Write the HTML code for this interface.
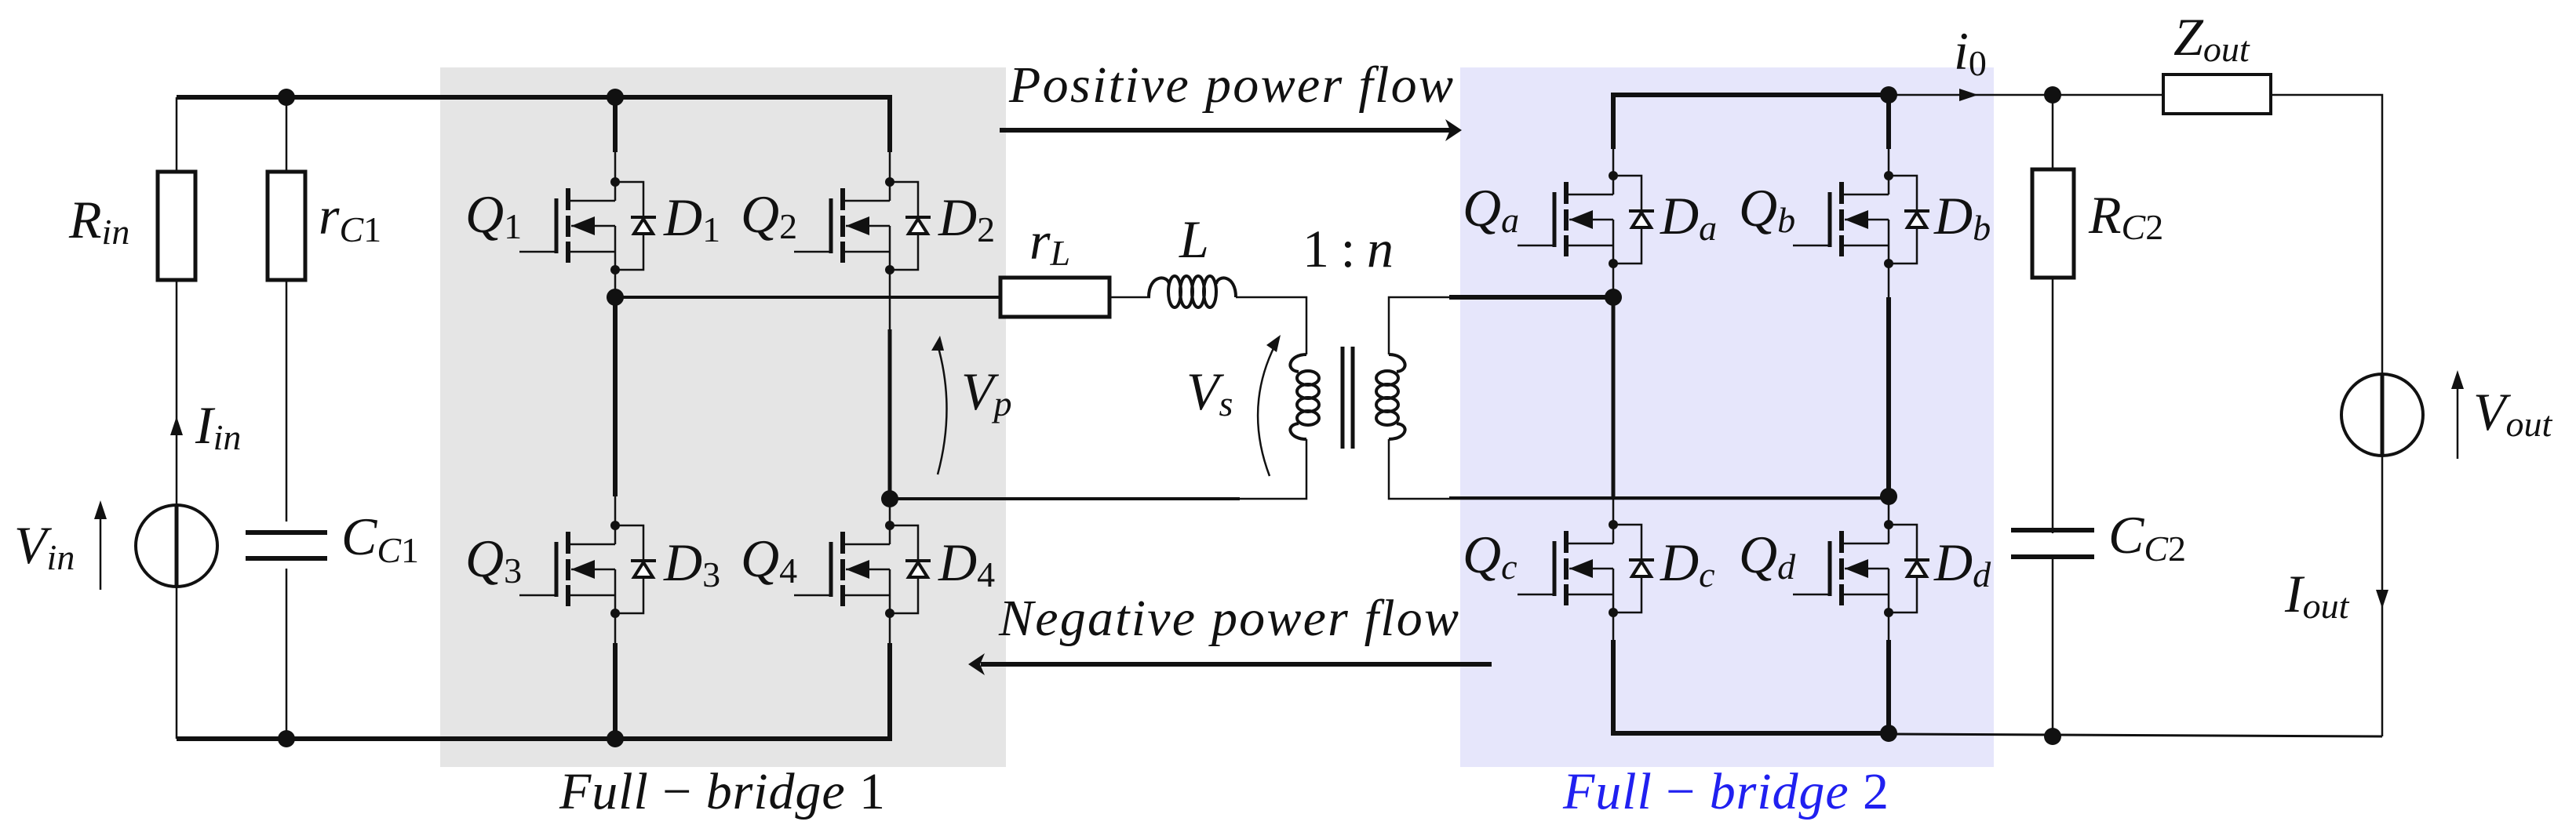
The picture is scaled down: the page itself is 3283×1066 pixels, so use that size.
<!DOCTYPE html>
<html><head><meta charset="utf-8"><style>
html,body{margin:0;padding:0;background:#fff}
svg{display:block}
text{font-family:"Liberation Serif","DejaVu Serif",serif;font-style:italic;fill:#111}
.up{font-style:normal}
</style></head><body>
<svg width="3283" height="1066" viewBox="0 0 3283 1066" xmlns="http://www.w3.org/2000/svg" font-family="Liberation Serif, DejaVu Serif, serif">
<defs>
<g id="fet" stroke="#111" fill="none">
  <line x1="0" y1="0" x2="0" y2="24" stroke-width="2.5"/>
  <line x1="0" y1="24" x2="-60" y2="24" stroke-width="2.5"/>
  <line x1="-60" y1="8" x2="-60" y2="36" stroke-width="6"/>
  <line x1="-60" y1="43" x2="-60" y2="70" stroke-width="6"/>
  <line x1="-60" y1="76" x2="-60" y2="103" stroke-width="6"/>
  <line x1="-75" y1="21" x2="-75" y2="91" stroke-width="5"/>
  <line x1="-122" y1="89" x2="-75" y2="89" stroke-width="2.5"/>
  <line x1="-56" y1="56" x2="0" y2="56" stroke-width="2.5"/>
  <line x1="-60" y1="89" x2="0" y2="89" stroke-width="2.5"/>
  <line x1="0" y1="56" x2="0" y2="112" stroke-width="2.5"/>
  <polygon points="-56,56 -26,44 -26,68" fill="#111" stroke="none"/>
  <polyline points="0,0 36,0 36,112 0,112" stroke-width="2.5"/>
  <line x1="20" y1="45" x2="52" y2="45" stroke-width="4"/>
  <polygon points="36,47 24,66 48,66" fill="#fff" stroke-width="4"/>
  <circle cx="0" cy="0" r="6" fill="#111" stroke="none"/>
  <circle cx="0" cy="112" r="6" fill="#111" stroke="none"/>
</g>
<g id="coilL" fill="none" stroke="#111" stroke-width="4">
  <path d="M0,0 C22,0 28,20 10,22"/>
  <ellipse cx="-2" cy="30" rx="14" ry="9"/>
  <ellipse cx="-2" cy="47" rx="14" ry="9"/>
  <ellipse cx="-2" cy="64" rx="14" ry="9"/>
  <ellipse cx="-2" cy="81" rx="14" ry="9"/>
  <path d="M10,88 C28,90 22,108 0,108"/>
</g>
</defs>

<rect x="561" y="86" width="721" height="892" fill="#e5e5e5"/>
<rect x="1861" y="86" width="680" height="892" fill="#e6e6fb"/>

<g stroke="#111" fill="none" stroke-linecap="butt">
<line x1="225" y1="124" x2="1137" y2="124" stroke-width="6"/>
<line x1="784" y1="124" x2="784" y2="194" stroke-width="6"/>
<line x1="1134" y1="121" x2="1134" y2="194" stroke-width="6"/>
<line x1="784" y1="194" x2="784" y2="232" stroke-width="2.5"/>
<line x1="1134" y1="194" x2="1134" y2="232" stroke-width="2.5"/>
<line x1="225" y1="942" x2="1137" y2="942" stroke-width="6"/>
<line x1="225" y1="124" x2="225" y2="942" stroke-width="2.5"/>
<line x1="365" y1="124" x2="365" y2="942" stroke-width="2.5"/>
<line x1="784" y1="344" x2="784" y2="379" stroke-width="2.5"/>
<line x1="784" y1="379" x2="784" y2="633" stroke-width="6"/>
<line x1="784" y1="633" x2="784" y2="670" stroke-width="2.5"/>
<line x1="784" y1="782" x2="784" y2="820" stroke-width="2.5"/>
<line x1="784" y1="820" x2="784" y2="942" stroke-width="6"/>
<line x1="1134" y1="344" x2="1134" y2="636" stroke-width="2.5"/>
<line x1="1134" y1="420" x2="1134" y2="636" stroke-width="5"/>
<line x1="1134" y1="636" x2="1134" y2="670" stroke-width="2.5"/>
<line x1="1134" y1="782" x2="1134" y2="820" stroke-width="2.5"/>
<line x1="1134" y1="820" x2="1134" y2="945" stroke-width="6"/>
<line x1="784" y1="379" x2="1273" y2="379" stroke-width="4"/>
<rect x="1275" y="354" width="139" height="50" stroke-width="5" fill="#fff"/>
<line x1="1414" y1="379" x2="1466" y2="379" stroke-width="2.5"/>
<path d="M1464,379 C1464,350 1488,350 1490,362" stroke-width="4"/>
<ellipse cx="1497" cy="372" rx="8" ry="20" stroke-width="4"/>
<ellipse cx="1512" cy="372" rx="8" ry="20" stroke-width="4"/>
<ellipse cx="1527" cy="372" rx="8" ry="20" stroke-width="4"/>
<ellipse cx="1542" cy="372" rx="8" ry="20" stroke-width="4"/>
<path d="M1550,362 C1552,350 1575,350 1575,379" stroke-width="4"/>
<polyline points="1575,379 1665,379 1665,452" stroke-width="2.5"/>
<polyline points="1665,560 1665,636 1134,636" stroke-width="2.5"/>
<line x1="1134" y1="636" x2="1580" y2="636" stroke-width="4"/>
<use href="#coilL" transform="translate(1665,452) scale(-1,1)"/>
<use href="#coilL" transform="translate(1770,452)"/>
<line x1="1711" y1="442" x2="1711" y2="572" stroke-width="5"/>
<line x1="1724" y1="442" x2="1724" y2="572" stroke-width="5"/>
<polyline points="1770,452 1770,379 2056,379" stroke-width="2.5"/>
<line x1="1847" y1="379" x2="2056" y2="379" stroke-width="6"/>
<polyline points="1770,560 1770,636 2407,636" stroke-width="2.5"/>
<line x1="1847" y1="635" x2="2407" y2="635" stroke-width="4"/>
<line x1="2053" y1="121" x2="2407" y2="121" stroke-width="6"/>
<line x1="2056" y1="121" x2="2056" y2="190" stroke-width="6"/>
<line x1="2407" y1="121" x2="2407" y2="190" stroke-width="6"/>
<line x1="2056" y1="190" x2="2056" y2="224" stroke-width="2.5"/>
<line x1="2407" y1="190" x2="2407" y2="224" stroke-width="2.5"/>
<line x1="2056" y1="336" x2="2056" y2="379" stroke-width="2.5"/>
<line x1="2056" y1="379" x2="2056" y2="636" stroke-width="5"/>
<line x1="2056" y1="636" x2="2056" y2="669" stroke-width="2.5"/>
<line x1="2407" y1="336" x2="2407" y2="379" stroke-width="2.5"/>
<line x1="2407" y1="379" x2="2407" y2="633" stroke-width="6"/>
<line x1="2407" y1="633" x2="2407" y2="669" stroke-width="2.5"/>
<line x1="2056" y1="781" x2="2056" y2="816" stroke-width="2.5"/>
<line x1="2056" y1="816" x2="2056" y2="938" stroke-width="6"/>
<line x1="2407" y1="781" x2="2407" y2="816" stroke-width="2.5"/>
<line x1="2407" y1="816" x2="2407" y2="938" stroke-width="6"/>
<line x1="2053" y1="935" x2="2407" y2="935" stroke-width="6"/>
<line x1="2407" y1="936" x2="3036" y2="939" stroke-width="3"/>
<line x1="2407" y1="121" x2="2756" y2="121" stroke-width="2.5"/>
<polyline points="2895,121 3036,121 3036,939" stroke-width="2.5"/>
<line x1="2616" y1="121" x2="2616" y2="939" stroke-width="2.5"/>
<rect x="201" y="219" width="48" height="138" stroke-width="5" fill="#fff"/>
<rect x="341" y="219" width="48" height="138" stroke-width="5" fill="#fff"/>
<rect x="2590" y="216" width="53" height="138" stroke-width="5" fill="#fff"/>
<rect x="2757" y="95" width="137" height="50" stroke-width="4" fill="#fff"/>
<rect x="320" y="665" width="90" height="60" fill="#fff" stroke="none"/>
<line x1="313" y1="679" x2="417" y2="679" stroke-width="6"/>
<line x1="313" y1="712" x2="417" y2="712" stroke-width="6"/>
<rect x="2570" y="680" width="95" height="28" fill="#fff" stroke="none"/>
<line x1="2563" y1="676" x2="2669" y2="676" stroke-width="6"/>
<line x1="2563" y1="710" x2="2669" y2="710" stroke-width="6"/>
<ellipse cx="225" cy="696" rx="52" ry="52" stroke-width="4" fill="#fff"/>
<line x1="225" y1="644" x2="225" y2="748" stroke-width="5"/>
<ellipse cx="3036" cy="529" rx="52" ry="52" stroke-width="4" fill="#fff"/>
<line x1="3036" y1="477" x2="3036" y2="581" stroke-width="5"/>
<line x1="128" y1="752" x2="128" y2="660" stroke-width="2.5"/>
<line x1="3132" y1="585" x2="3132" y2="492" stroke-width="2.5"/>
<path d="M1195,605 Q1218,520 1195,440" stroke-width="2.5"/>
<path d="M1618,607 Q1585,520 1625,440" stroke-width="2.5"/>
<line x1="1274" y1="166" x2="1850" y2="166" stroke-width="6"/>
<line x1="1250" y1="847" x2="1901" y2="847" stroke-width="6"/>
</g>
<g fill="#111">
<polygon points="1863,166 1842,152 1848,166 1842,180"/>
<polygon points="1234,847 1255,833 1249,847 1255,861"/>
<polygon points="128,638 120,662 136,662"/>
<polygon points="3132,472 3124,496 3140,496"/>
<polygon points="225,531 217,555 233,555"/>
<polygon points="3036,776 3028,752 3044,752"/>
<polygon points="2521,121 2497,113 2497,129"/>
<polygon points="1198,428 1187,447 1203,447"/>
<polygon points="1632,427 1614,440 1627,449"/>
<circle cx="365" cy="124" r="11"/><circle cx="784" cy="124" r="11"/>
<circle cx="365" cy="942" r="11"/><circle cx="784" cy="942" r="11"/>
<circle cx="784" cy="379" r="11"/><circle cx="1134" cy="636" r="11"/>
<circle cx="2056" cy="379" r="11"/><circle cx="2407" cy="633" r="11"/>
<circle cx="2407" cy="121" r="11"/><circle cx="2407" cy="935" r="11"/>
<circle cx="2616" cy="121" r="11"/><circle cx="2616" cy="939" r="11"/>
</g>
<use href="#fet" transform="translate(784,232)"/>
<use href="#fet" transform="translate(1134,232)"/>
<use href="#fet" transform="translate(784,670)"/>
<use href="#fet" transform="translate(1134,670)"/>
<use href="#fet" transform="translate(2056,224)"/>
<use href="#fet" transform="translate(2407,224)"/>
<use href="#fet" transform="translate(2056,669)"/>
<use href="#fet" transform="translate(2407,669)"/>

<g font-size="66">
<text x="1286" y="130" textLength="566" lengthAdjust="spacing">Positive power flow</text>
<text x="1273" y="810" textLength="586" lengthAdjust="spacing">Negative power flow</text>
<text x="713" y="1031" textLength="415" lengthAdjust="spacing">Full <tspan class="up">−</tspan> bridge <tspan class="up">1</tspan></text>
<text x="1992" y="1031" textLength="415" lengthAdjust="spacing" style="fill:#2020f0">Full <tspan class="up" style="fill:#2020f0">−</tspan> bridge <tspan class="up" style="fill:#2020f0">2</tspan></text>
</g>
<g font-size="68">
<text x="593" y="296">Q<tspan class="up" font-size="46" dy="8">1</tspan></text>
<text x="944" y="296">Q<tspan class="up" font-size="46" dy="8">2</tspan></text>
<text x="593" y="735">Q<tspan class="up" font-size="46" dy="8">3</tspan></text>
<text x="944" y="735">Q<tspan class="up" font-size="46" dy="8">4</tspan></text>
<text x="846" y="300">D<tspan class="up" font-size="46" dy="8">1</tspan></text>
<text x="1196" y="300">D<tspan class="up" font-size="46" dy="8">2</tspan></text>
<text x="846" y="740">D<tspan class="up" font-size="46" dy="8">3</tspan></text>
<text x="1196" y="740">D<tspan class="up" font-size="46" dy="8">4</tspan></text>
<text x="1864" y="288">Q<tspan font-size="46" dy="8">a</tspan></text>
<text x="2216" y="288">Q<tspan font-size="46" dy="8">b</tspan></text>
<text x="1864" y="730">Q<tspan font-size="46" dy="8">c</tspan></text>
<text x="2216" y="730">Q<tspan font-size="46" dy="8">d</tspan></text>
<text x="2116" y="298">D<tspan font-size="46" dy="8">a</tspan></text>
<text x="2465" y="298">D<tspan font-size="46" dy="8">b</tspan></text>
<text x="2116" y="740">D<tspan font-size="46" dy="8">c</tspan></text>
<text x="2465" y="740">D<tspan font-size="46" dy="8">d</tspan></text>
<text x="88" y="303">R<tspan font-size="46" dy="8">in</tspan></text>
<text x="406" y="298">r<tspan font-size="46" dy="10">C<tspan class="up">1</tspan></tspan></text>
<text x="249" y="565">I<tspan font-size="46" dy="8">in</tspan></text>
<text x="18" y="718">V<tspan font-size="46" dy="8">in</tspan></text>
<text x="435" y="707">C<tspan font-size="46" dy="10">C<tspan class="up">1</tspan></tspan></text>
<text x="1225" y="522">V<tspan font-size="46" dy="8">p</tspan></text>
<text x="1512" y="522">V<tspan font-size="46" dy="8">s</tspan></text>
<text x="1312" y="330">r<tspan font-size="46" dy="8">L</tspan></text>
<text x="1503" y="328">L</text>
<text x="1660" y="340" class="up" textLength="116" lengthAdjust="spacing">1 : <tspan style="font-style:italic">n</tspan></text>
<text x="2490" y="88">i<tspan class="up" font-size="46" dy="8">0</tspan></text>
<text x="2770" y="70">Z<tspan font-size="46" dy="8">out</tspan></text>
<text x="2662" y="297">R<tspan font-size="46" dy="8">C<tspan class="up">2</tspan></tspan></text>
<text x="2687" y="705">C<tspan font-size="46" dy="10">C<tspan class="up">2</tspan></tspan></text>
<text x="3152" y="548">V<tspan font-size="46" dy="8">out</tspan></text>
<text x="2912" y="780">I<tspan font-size="46" dy="8">out</tspan></text>
</g>
</svg>
</body></html>
